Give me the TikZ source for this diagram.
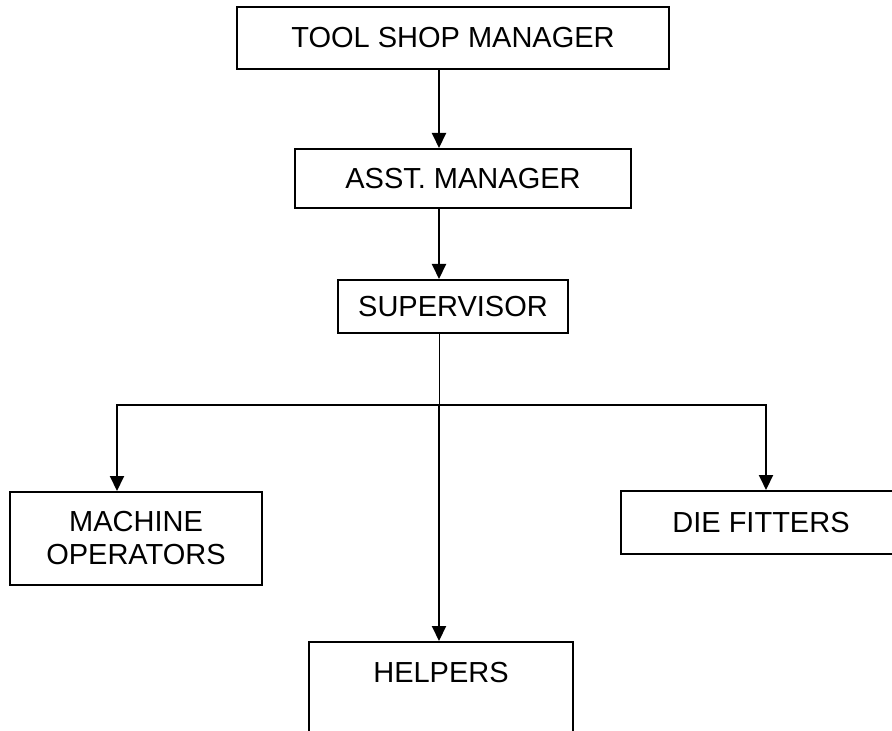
\documentclass[tikz,border=0pt]{standalone}
\usepackage{fontspec}
\setmainfont{Liberation Sans}
\usetikzlibrary{arrows.meta}

\begin{document}
\begin{tikzpicture}[x=0.5pt, y=-0.5pt,
    box/.style={rectangle, draw, line width=1pt, inner sep=0pt, align=center,
        font=\fontsize{14.5}{16.5}\selectfont},
    arr/.style={-{Triangle[length=7.5pt, width=7pt]}, line width=1pt}]
                \clip (0,0) rectangle (892,731);
                \fill[white] (0,0) rectangle (892,731);
                % Chart boxes
                \node[box, minimum width=216pt, minimum height=31pt] (tsm) at (453,38) {TOOL SHOP MANAGER};
                \node[box, minimum width=168pt, minimum height=29.5pt] (asst) at (463,178.5) {ASST. MANAGER};
                \node[box, minimum width=115pt, minimum height=26.5pt] (sup) at (453,306.5) {SUPERVISOR};
                \node[box, minimum width=126pt, minimum height=46.5pt] (mo) at (136,538.5) {MACHINE\\OPERATORS};
                \node[box, minimum width=140pt, minimum height=31.5pt] (df) at (761,522.5) {DIE FITTERS};
                \node[box, minimum width=132pt, text height=20pt, text depth=60pt, anchor=north] (helpers) at (441,641) {HELPERS};

                % Branch points
                \coordinate (hub) at (439,405);
                \coordinate (lft) at (117,405);
                \coordinate (rgt) at (766,405);

                \draw[arr] (tsm.south -| hub) -- (asst.north -| hub);
                \draw[arr] (asst.south -| hub) -- (sup.north -| hub);
                \draw[line width=0.5pt] (sup.south -| hub) -- (hub);
                \draw[arr] (hub) -| (mo.north -| lft);
                \draw[arr] (hub) -| (df.north -| rgt);
                \draw[arr] (hub) -- (helpers.north -| hub);
            \end{tikzpicture}
\end{document}
